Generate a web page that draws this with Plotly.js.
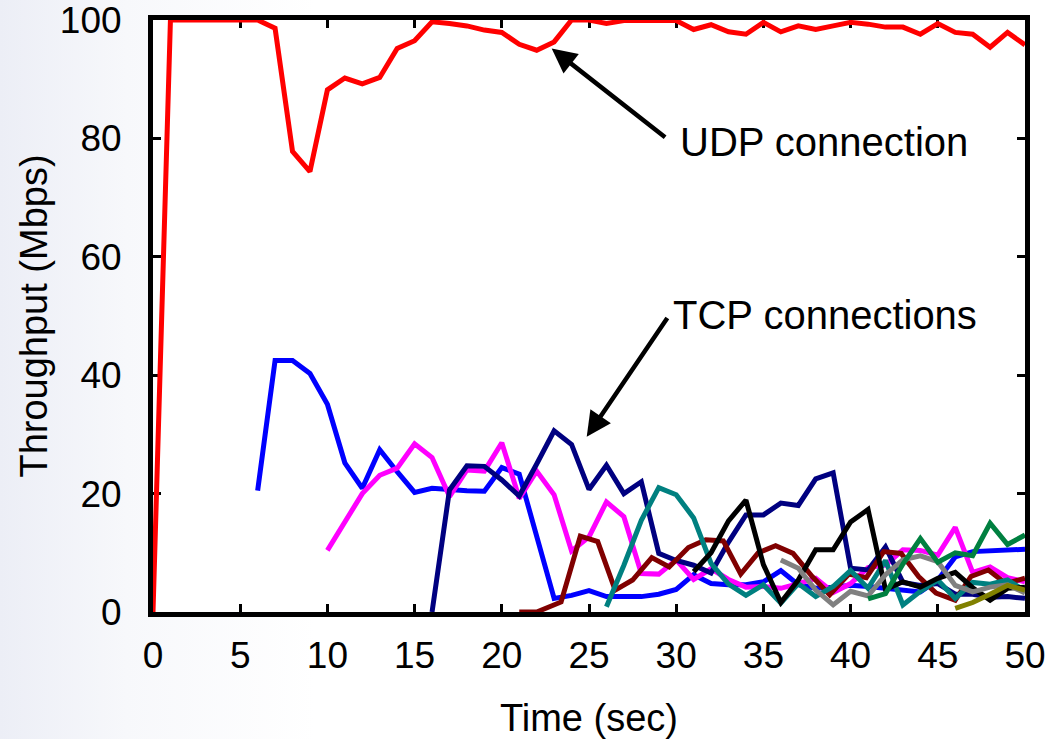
<!DOCTYPE html>
<html>
<head>
<meta charset="utf-8">
<script src="https://cdn.plot.ly/plotly-3.0.1.min.js"></script>
<style>
  html, body { margin: 0; padding: 0; }
  body { width: 1050px; height: 739px; background: linear-gradient(to right, #eceef6 0%, #f7f8fb 12%, #ffffff 30%); }
  #chart { width: 1050px; height: 739px; }
</style>
</head>
<body>
<div id="chart"></div>
<script>
// ---- data ----
const udpX = [0,1,2,3,4,5,6,7,8,9,10,11,12,13,14,15,16,17,18,19,20,21,22,23,24,25,26,27,28,29,30,31,32,33,34,35,36,37,38,39,40,41,42,43,44,45,46,47,48,49,50];
const udpY = [0,100,100,100,100,100,100,98.6,77.8,74.4,88.2,90.2,89.2,90.3,95.2,96.5,99.7,99.4,99,98.3,97.9,95.9,94.9,96.3,100,100,99.4,99.9,99.9,99.9,99.9,98.4,99.2,98,97.6,99.6,98,99,98.4,99,99.6,99.3,98.8,98.8,97.6,99.4,97.9,97.6,95.4,97.9,95.8];

const tcp1X = [6,7,8,9,10,11,12,13,14,15,16,17,18,19,20,21,22,23,24,25,26,27,28,29,30,31,32,33,34,35,36,37,38,39,40,41,42,43,44,45,46,47,48,49,50];
const tcp1Y = [20.5,42.5,42.5,40.3,35.1,25.2,20.9,27.4,23.7,20.2,20.9,20.6,20.5,20.4,24.4,23.3,12.5,2.3,2.8,3.6,2.6,2.6,2.6,3.0,3.8,6.3,4.8,4.6,4.6,5.1,7.0,4.6,4.0,4.2,4.5,4.3,4.0,3.7,3.4,5.4,9.3,10.2,10.3,10.4,10.6];

const tcp2X = [10,11,12,13,14,15,16,17,18,19,20,21,22,23,24,25,26,27,28,29,30,31,32,33,34,35,36,37,38,39,40,41,42,43,44,45,46,47,48,49,50];
const tcp2Y = [10.4,15.3,20.0,23.1,24.3,28.4,26.1,19.5,24.0,23.8,28.6,19.2,23.8,19.8,10.3,12.7,18.6,16.1,6.5,6.4,8.8,5.5,7.3,5.5,4.2,4.3,4.0,4.8,5.7,3.3,4.8,7.5,7.9,10.5,10.4,9.6,14.3,6.7,7.6,5.8,5.1];

const tcp3X = [16,17,18,19,20,21,22,23,24,25,26,27,28,29,30,31,32,33,34,35,36,37,38,39,40,41,42,43,44,45,46,47,48,49,50];
const tcp3Y = [0,20.6,24.7,24.6,22.3,19.6,25.0,30.6,28.3,20.7,24.8,20.0,22.0,9.9,8.7,7.9,6.6,11.8,16.4,16.4,18.4,18.0,22.5,23.5,7.4,7.1,11.0,5.0,4.5,4.8,3.0,3.0,2.5,2.6,2.3];

const tcp4X = [21,22,23.4,24.5,25.5,26.5,27.5,28.6,29.6,30.7,31.7,32.7,33.7,34.7,35.7,36.7,37.8,38.8,39.9,40.9,41.9,42.9,43.9,44.9,46,46.9,47.9,48.9,50];
const tcp4Y = [0,0,1.7,12.8,11.9,3.7,5.4,9.2,7.6,10.9,12.2,12.0,6.4,10.0,11.2,9.9,6.0,2.9,6.4,5.8,10.2,9.9,6.0,3.2,2.0,6.0,7.1,4.8,5.7];

const tcp5X = [26,27,28,29,30,31,32,33,34,35,36,37,38,39,40,41,42,43,44,45,46,47,48,49,50];
const tcp5Y = [0.9,7.9,15.5,21.0,19.8,15.9,8.2,4.7,2.8,4.6,1.5,4.8,2.6,4.3,7.0,4.0,8.7,1.2,3.5,5.4,2.3,5.0,4.7,5.4,3.6];

const tcp6X = [31,32,33,34,35,36,37,38,39,40,41,42,43,44,45,46,47,48,49,50];
const tcp6Y = [6.8,10.0,15.4,18.9,8.0,1.6,5.4,10.5,10.5,15.2,17.3,3.8,5.1,4.2,5.7,6.7,4.1,2.0,4.0,4.2];

const tcp7X = [36,37,38,39,40,41,42,43,44,45,46,47,48,49,50];
const tcp7Y = [8.8,7.4,3.7,1.2,3.5,2.7,6.3,8.8,9.5,8.5,4.5,3.4,4.2,4.6,3.2];

const tcp8X = [41,42,43,44,45,46,47,48,49,50];
const tcp8Y = [2.2,3.1,8.1,12.4,8.4,10.0,9.5,15.0,11.4,13.0];

const tcp9X = [46,47,48,49,50];
const tcp9Y = [0.6,1.6,3.0,4.5,3.7];

const xTicks = [0,5,10,15,20,25,30,35,40,45,50];
const yTicks = [0,20,40,60,80,100];
const xTitle = 'Time (sec)';
const yTitle = 'Throughput (Mbps)';
const udpLabel = 'UDP connection';
const tcpLabel = 'TCP connections';

// ---- styling ----
const FONT = '"Liberation Sans", Arial, Helvetica, sans-serif';
const LW = 5;
function line(x, y, color) {
  return { x: x, y: y, type: 'scatter', mode: 'lines', showlegend: false, hoverinfo: 'skip',
           line: { color: color, width: LW, shape: 'linear' } };
}
const traces = [
  line(tcp1X, tcp1Y, '#0000ff'),
  line(tcp2X, tcp2Y, '#ff00ff'),
  line(tcp3X, tcp3Y, '#000080'),
  line(tcp4X, tcp4Y, '#800000'),
  line(tcp5X, tcp5Y, '#008080'),
  line(tcp6X, tcp6Y, '#000000'),
  line(tcp7X, tcp7Y, '#808080'),
  line(tcp8X, tcp8Y, '#008040'),
  line(tcp9X, tcp9Y, '#808000'),
  line(udpX, udpY, '#ff0000')
];

const axisCommon = {
  showline: true, linecolor: '#000', linewidth: 5, mirror: 'ticks',
  ticks: 'inside', ticklen: 8, tickwidth: 3, tickcolor: '#000',
  showgrid: false, zeroline: false, layer: 'below traces',
  ticklabeloverflow: 'allow',
  tickfont: { family: FONT, size: 37, color: '#000' },
  fixedrange: true
};

const layout = {
  width: 1050, height: 739,
  margin: { l: 153, r: 25, t: 20, b: 127 },
  paper_bgcolor: 'rgba(0,0,0,0)',
  plot_bgcolor: '#ffffff',
  font: { family: FONT, color: '#000' },
  xaxis: Object.assign({}, axisCommon, {
    range: [0, 50], tickvals: xTicks, ticktext: xTicks.map(String),
    ticklabelstandoff: 7,
    title: { text: xTitle, font: { family: FONT, size: 38, color: '#000' }, standoff: 33 }
  }),
  yaxis: Object.assign({}, axisCommon, {
    range: [0, 100], tickvals: yTicks, ticktext: yTicks.map(String),
    ticklabelstandoff: 19,
    title: { text: yTitle, font: { family: FONT, size: 38, color: '#000' }, standoff: 2 }
  }),
  annotations: [
    { xref: 'x', yref: 'y', x: 22.86, y: 95.2, axref: 'x', ayref: 'y', ax: 29.45, ay: 80.0,
      text: '', showarrow: true, arrowhead: 2, arrowsize: 1.1, arrowwidth: 4.5, arrowcolor: '#000', standoff: 0, startstandoff: 0 },
    { xref: 'x', yref: 'y', x: 24.87, y: 29.6, axref: 'x', ayref: 'y', ax: 29.55, ay: 49.9,
      text: '', showarrow: true, arrowhead: 2, arrowsize: 1.1, arrowwidth: 4.5, arrowcolor: '#000', standoff: 0, startstandoff: 0 },
    { xref: 'x', yref: 'y', x: 30.1, y: 79.4, xanchor: 'left', yanchor: 'middle', showarrow: false,
      text: udpLabel, font: { family: FONT, size: 40, color: '#000' } },
    { xref: 'x', yref: 'y', x: 29.7, y: 50.2, xanchor: 'left', yanchor: 'middle', showarrow: false,
      text: tcpLabel, font: { family: FONT, size: 40, color: '#000' } }
  ]
};

Plotly.newPlot('chart', traces, layout, { staticPlot: true, displayModeBar: false });
</script>
</body>
</html>
